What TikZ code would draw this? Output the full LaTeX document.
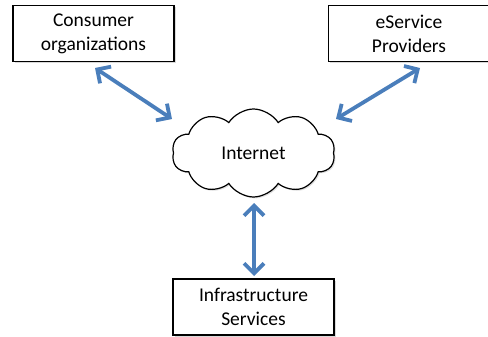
\documentclass[tikz,border=0pt]{standalone}
\usepackage{fontspec}
\setmainfont{Carlito}
\usetikzlibrary{shapes.symbols,arrows.meta,shadows}
\definecolor{linkblue}{HTML}{4A7EBB}
\tikzset{
  party/.style={draw=black, line width=1.2pt, fill=white, align=center,
    minimum width=161pt, minimum height=56pt, inner sep=2pt,
    font=\fontsize{19.5}{24}\selectfont,
    drop shadow={opacity=0.3, shadow xshift=1.8pt, shadow yshift=-1.8pt}},
  net/.style={cloud, cloud puffs=10, cloud puff arc=115, aspect=2,
    draw=black, line width=1.2pt, fill=white, inner sep=0pt,
    minimum width=163pt, minimum height=88pt,
    font=\fontsize{19.5}{24}\selectfont,
    drop shadow={opacity=0.25, shadow xshift=1.4pt, shadow yshift=-1.4pt}},
  link/.style={draw=linkblue, line width=3.8pt,
    {Straight Barb[length=10pt,width=20pt,line width=3.8pt]}-{Straight Barb[length=10pt,width=20pt,line width=3.8pt]}}
}
\begin{document}
\begin{tikzpicture}[x=1pt,y=-1pt]
  \useasboundingbox (0,0) rectangle (488,337);
  \node[party] (cons) at (93.5,33.5) {Consumer\\organizations};
  \node[party] (prov) at (409,33.5) {eService\\Providers};
  \node[party] (infra) at (253.5,307) {Infrastructure\\Services};
  \node[net] (inet) at (253.5,153) {Internet};
  \coordinate (a1) at (95,68);
  \coordinate (a2) at (172,119);
  \coordinate (b1) at (420,68);
  \coordinate (b2) at (336,119);
  \coordinate (c1) at (254,203);
  \coordinate (c2) at (254,276);
  \draw[link] (a1) -- (a2);
  \draw[link] (b1) -- (b2);
  \draw[link] (c1) -- (c2);
\end{tikzpicture}
\end{document}
